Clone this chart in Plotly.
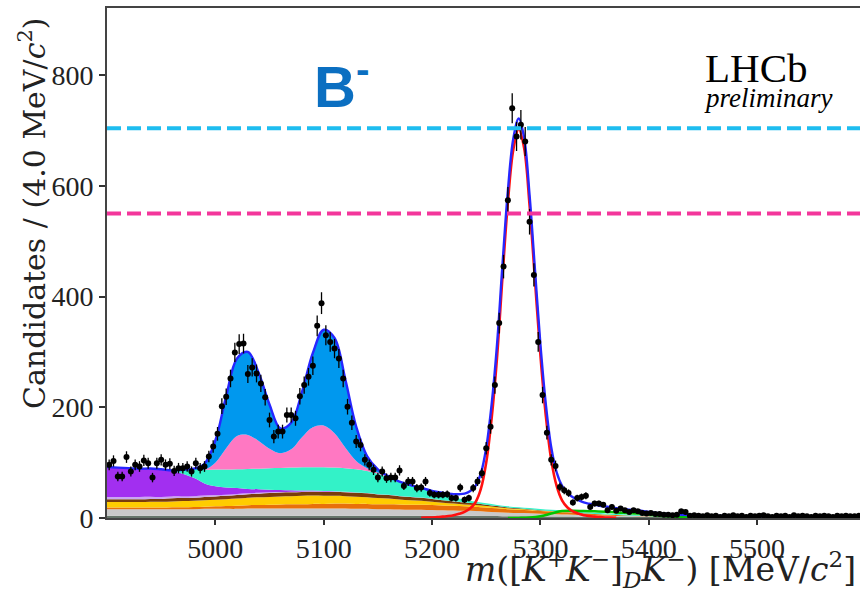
import numpy as np
import plotly.graph_objects as go

# ---------------- data ----------------
# background component grid (MeV/c^2)
mass_grid = list(range(4900, 5601, 10))

dark_bkg = [4]*35 + [3.5, 3.5, 3, 3, 3, 2.5, 2.5, 2.5, 2.5, 2, 2, 2, 2, 2, 2, 2,
                     1.8, 1.8, 1.8, 1.8, 1.6] + [1.5]*15
gray_bkg = [12]*9 + [12.5]*4 + [13]*10 + [12.5, 12.5, 12, 12, 11.5, 11, 11, 10.5, 10, 9.5, 9, 8.5,
                                          8, 7, 6.5, 6, 5.5, 5, 4.5, 4, 3.5, 3, 2.5, 2, 1.8, 1.5,
                                          1.3, 1.1, 1, 0.9, 0.8, 0.7, 0.6] + [0.5]*15
orange_bkg = [3, 3, 3, 3, 3, 3, 3.5, 3.5, 4, 4, 4.5, 5, 5.5, 6, 6.5, 7, 7.5, 8, 8, 8.5, 8.5,
              9, 9, 9, 9, 9, 9, 9, 9, 9, 9, 8.5, 8.5, 8, 8, 7.5, 7, 6.5, 6, 5.5, 5, 4.5, 4,
              3.5, 3, 2.5, 2, 1.5, 1, 0.7, 0.5, 0.3, 0.2, 0.1, 0.1] + [0]*16
yellow_bkg = [10, 10, 10, 10, 10.5, 10.5, 10.5, 11, 11, 11.5, 12, 12.5, 13, 13.5, 14, 14, 14.5,
              14.5, 15, 15, 14.5, 14, 13.5, 13, 12, 11, 10, 9, 8, 7, 6, 5, 4, 3.5, 3, 2.5, 2,
              1.5, 1.2, 1, 0.8, 0.6, 0.5, 0.4, 0.3, 0.2, 0.2, 0.1, 0.1] + [0]*22
brown_bkg = [5, 5, 5, 5, 5, 5, 5.5, 5.5, 5.5, 6, 6, 6, 6.5, 6.5, 6.5, 7, 7, 7, 7, 7, 7, 7, 7,
             7, 7, 6.5, 6.5, 6, 6, 5.5, 5, 4.5, 4, 3.5, 3, 2.5, 2, 1.5, 1.2, 1, 0.8, 0.6, 0.5,
             0.4, 0.3, 0.2, 0.2, 0.1, 0.1] + [0]*22
lviolet_bkg = [4, 4, 4, 4, 4, 3.5, 3.5, 3, 3, 2.5, 2.5, 2, 2, 1.5, 1.5, 1.5, 1, 1, 1, 1, 1,
               0.8, 0.8, 0.6, 0.6, 0.5, 0.5, 0.4, 0.4, 0.3, 0.3, 0.2, 0.2, 0.2, 0.1, 0.1] + [0]*35
purple_bkg = [54, 53, 52, 51, 51, 50, 46, 41, 33, 22, 16, 13, 10.5, 8, 6.5, 4.5, 3.5, 2.5, 1.5,
              1, 0.6, 0.4, 0.2, 0.1] + [0]*47
turq_bkg = [0]*6 + [1, 6.5, 14.5, 24.5, 30, 32.5, 34, 36, 37, 39, 40, 41, 42, 42, 43, 42.8, 42.5,
                    41.8, 39.9, 37, 31, 25, 20.6, 17.2, 13.2, 10.8, 7.8, 4.8, 2.9, 2.4, 2, 2, 2.1,
                    2, 2, 2, 2, 2, 2, 2, 1.9, 1.8, 1.7, 1.6, 1.5, 1.5, 1.4, 1.4, 1.3, 1.3, 1.2,
                    1.2, 1.2, 1.1, 1.1, 1.1, 1.0, 1.0, 1.0, 1.0, 0.9, 0.9, 0.9, 0.9, 0.9]
pink_bkg = [0]*9 + [0.5, 12.5, 38.5, 60, 61.5, 50, 35, 26.5, 33, 54.5, 72.5, 75.4, 62, 37, 15,
                    5, 2, 1, 0.3] + [0]*43
blue_bkg = [0]*7 + [0.5, 2, 10.5, 40, 94, 140, 150, 123, 80, 45, 48, 82, 134, 173, 172, 123, 62,
                    22, 6, 1] + [0]*44

# signal (red line)
sig_grid = list(range(5190, 5371, 5))
sig_vals = [0.5, 0.7, 1, 1.5, 2.5, 3.5, 5, 7.5, 11, 17, 28, 52, 100, 180, 290, 435, 570, 665,
            702, 668, 565, 430, 295, 185, 105, 58, 32, 19, 12, 8, 5, 3.5, 2.5, 1.5, 1, 0.7, 0.5]

# misID component (green line)
green_grid = list(range(5270, 5501, 10))
green_vals = [0, 0.2, 0.8, 3, 8, 12.5, 13, 12.5, 12, 11.5, 10, 9, 8, 6, 4, 2.7, 1.8, 1.2, 0.8,
              0.5, 0.3, 0.2, 0.1, 0]

# total fit (blue line)
fit_grid = list(range(4900, 5201, 10)) + list(range(5205, 5361, 5)) + list(range(5370, 5601, 10))
fit_vals = [92, 91, 90, 89, 89.5, 88, 86, 87, 89, 98, 140, 220, 288, 300, 262, 205, 162, 172,
            228, 298, 340, 325, 250, 165, 112, 88, 75, 65.5, 59.5, 54.5, 49,
            47, 45.5, 44, 43, 43, 44, 48.2, 57.5, 80, 126.5, 205, 313.5, 457, 591, 685, 721.5,
            686.7, 583.5, 448.5, 314, 206, 127.7, 82.6, 58, 44.9, 37.3, 32.3, 28.1, 25.7, 23.9,
            22, 20.8,
            17.8, 15.6, 13.6, 11.1, 8.6, 7, 5.9, 5.1, 4.3, 3.7, 3.5, 3.4, 3.2, 3.1, 3.1, 3.0,
            3.0, 3.0, 3.0, 2.9, 2.9, 2.9, 2.9, 2.9]

# data (4 MeV bins)
bin_centers = list(range(4902, 5600, 4))
counts = [96, 103, 75, 75, 110, 84, 96, 93, 104, 99, 73, 99, 105, 96, 98, 85, 90, 90, 93, 84,
          99, 90, 93, 111, 129, 152, 202, 219, 252, 299, 314, 315, 260, 272, 261, 243, 218, 177,
          147, 156, 156, 186, 186, 180, 220, 240, 255, 275, 347, 388, 330, 318, 306, 288, 252,
          201, 172, 138, 132, 105, 96, 87, 73, 84, 72, 73, 73, 86, 58, 66, 66, 54, 55, 66, 45,
          42, 42, 42, 43, 36, 36, 55, 33, 36, 54, 66, 81, 126, 165, 240, 352, 454, 574, 740,
          689, 710, 680, 535, 439, 318, 222, 154, 105, 94, 56, 50, 45, 28, 36, 38, 40, 20, 26,
          26, 24, 14, 20, 13, 17, 14, 11, 14, 12, 9, 8, 9, 7, 7, 6, 6, 5, 6, 12, 11, 4, 5, 4,
          3, 5, 3, 4, 2, 4, 3, 5, 3, 4, 2, 4, 3, 4, 5, 3, 2, 4, 3, 4, 2, 5, 3, 4, 3, 2, 4, 3,
          4, 3, 2, 4, 3, 4, 3, 3, 4]

y_ticks = [0, 200, 400, 600, 800]
x_ticks = [5000, 5100, 5200, 5300, 5400, 5500]
line_cyan = 704
line_magenta = 550

# ---------------- figure ----------------
fig = go.Figure()

layers = [
    (dark_bkg, '#66756a'),
    (gray_bkg, '#c9c9c9'),
    (orange_bkg, '#e8700a'),
    (yellow_bkg, '#ffcc00'),
    (brown_bkg, '#7a3c0c'),
    (lviolet_bkg, '#c9a6f2'),
    (purple_bkg, '#a22ff0'),
    (turq_bkg, '#33f2c8'),
    (pink_bkg, '#ff78c2'),
    (blue_bkg, '#0098ee'),
]
cum = np.zeros(len(mass_grid))
for i, (vals, col) in enumerate(layers):
    assert len(vals) == len(mass_grid), (i, len(vals))
    cum = cum + np.array(vals, dtype=float)
    fig.add_trace(go.Scatter(
        x=mass_grid, y=cum.copy(), mode='lines',
        line=dict(width=0, shape='spline', color=col),
        fill='tozeroy' if i == 0 else 'tonexty', fillcolor=col,
        hoverinfo='skip', showlegend=False))

fig.add_trace(go.Scatter(x=green_grid, y=green_vals, mode='lines',
                         line=dict(color='#00c400', width=2.5, shape='spline'), showlegend=False))
fig.add_trace(go.Scatter(x=sig_grid, y=sig_vals, mode='lines',
                         line=dict(color='#ff1010', width=2.6, shape='spline'), showlegend=False))
fig.add_trace(go.Scatter(x=fit_grid, y=fit_vals, mode='lines',
                         line=dict(color='#2626ff', width=2.4, shape='spline'), showlegend=False))

cnt = np.array(counts, dtype=float)
fig.add_trace(go.Scatter(
    x=bin_centers, y=counts, mode='markers',
    marker=dict(color='black', size=6),
    error_y=dict(type='data', array=np.sqrt(cnt), color='black', thickness=1.3, width=0),
    error_x=dict(type='constant', value=2, color='black', thickness=1.3, width=0),
    showlegend=False))

serif = 'Liberation Serif'
title_font = 'DejaVu Serif'
fig.update_layout(
    width=860, height=596,
    margin=dict(l=107, r=0, t=8, b=78),
    paper_bgcolor='white', plot_bgcolor='white',
    xaxis=dict(range=[4900, 5595], tickvals=x_ticks, ticks='outside', ticklen=5, tickwidth=1.5,
               tickcolor='#333', showline=True, linecolor='#444', linewidth=1.6, mirror=True,
               showgrid=False, zeroline=False,
               tickfont=dict(family=serif, size=28, color='#222')),
    yaxis=dict(range=[0, 921], tickvals=y_ticks, ticks='outside', ticklen=6, tickwidth=1.5,
               tickcolor='#333', showline=True, linecolor='#444', linewidth=1.6, mirror=False,
               showgrid=False, zeroline=False,
               tickfont=dict(family=serif, size=28, color='#222')),
    shapes=[
        dict(type='line', xref='paper', x0=0, x1=1, yref='y', y0=line_cyan, y1=line_cyan,
             line=dict(color='#1ebdf0', width=4, dash='14px,6px'), layer='above'),
        dict(type='line', xref='paper', x0=0, x1=1, yref='y', y0=line_magenta, y1=line_magenta,
             line=dict(color='#f3369b', width=4, dash='14px,6px'), layer='above'),
    ],
    annotations=[
        dict(text='Candidates / (4.0 MeV/<i>c</i><sup>2</sup>)', xref='paper', yref='paper',
             x=(32 - 107) / 753, y=(518 - 213) / 510, textangle=-90, showarrow=False,
             xanchor='center', yanchor='middle',
             font=dict(family=title_font, size=30, color='#222')),
        dict(text='<i>m</i>([<i>K</i><sup>+</sup><i>K</i><sup>\u2212</sup>]<sub><i>D</i></sub>'
                  '<i>K</i><sup>\u2212</sup>) [MeV/<i>c</i><sup>2</sup>]',
             xref='paper', yref='paper', x=(858 - 107) / 753, y=(518 - 569) / 510,
             showarrow=False, xanchor='right', yanchor='middle',
             font=dict(family=title_font, size=33, color='#222')),
        dict(text='<b>B<sup>-</sup></b>', xref='paper', yref='paper',
             x=(312 - 107) / 753, y=(518 - 82) / 510, showarrow=False,
             xanchor='left', yanchor='middle',
             font=dict(family='Liberation Sans', size=58, color='#0b6fc1')),
        dict(text='LHCb', xref='paper', yref='paper', x=(756 - 107) / 753, y=(518 - 68) / 510,
             showarrow=False, xanchor='center', yanchor='middle',
             font=dict(family=serif, size=41, color='black')),
        dict(text='<i>preliminary</i>', xref='paper', yref='paper', x=(768 - 107) / 753,
             y=(518 - 98) / 510, showarrow=False, xanchor='center', yanchor='middle',
             font=dict(family=serif, size=27, color='black')),
    ],
)

fig.write_html('out.html')
